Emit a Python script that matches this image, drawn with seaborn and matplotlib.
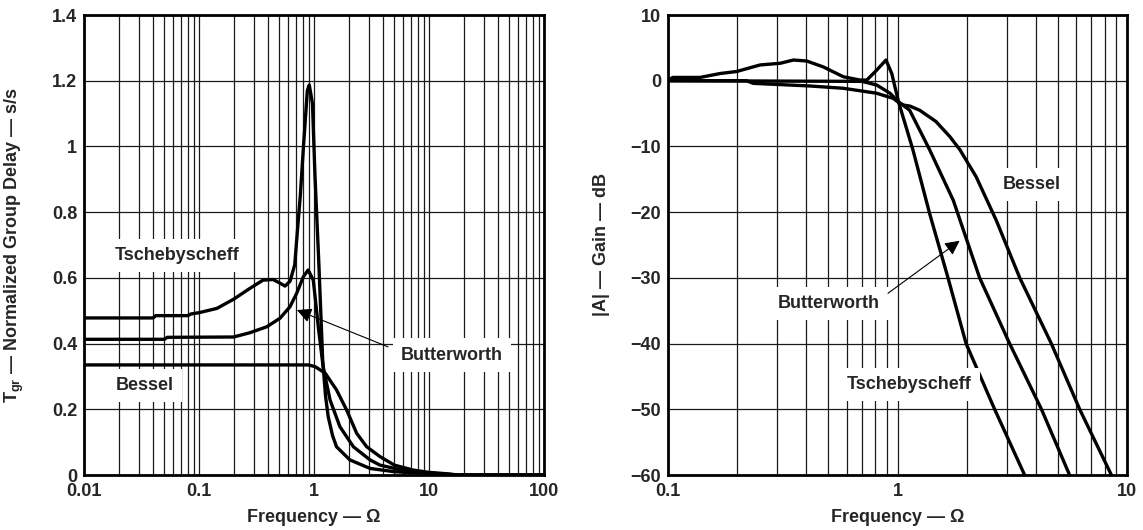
import numpy as np
import pandas as pd
import seaborn as sns
import matplotlib
matplotlib.use("Agg")
import matplotlib.pyplot as plt
from matplotlib.ticker import FixedLocator, LogLocator, NullFormatter

# ---- left panel: normalized group delay (s/s) vs frequency ----
tsch_delay_f = [0.01, 0.04, 0.042, 0.08, 0.085, 0.1, 0.143, 0.2, 0.277, 0.36, 0.44, 0.5, 0.56,
                0.62, 0.68, 0.72, 0.76, 0.81, 0.875, 0.91, 0.97, 1.02, 1.1, 1.19, 1.26, 1.33,
                1.45, 1.57, 2.05, 3.07, 5, 8, 12, 18, 100]
tsch_delay = [0.478, 0.478, 0.485, 0.485, 0.49, 0.494, 0.507, 0.535, 0.568, 0.593, 0.595, 0.585,
              0.575, 0.59, 0.64, 0.75, 0.85, 1.0, 1.17, 1.187, 1.13, 0.91, 0.65, 0.35, 0.24,
              0.177, 0.12, 0.086, 0.046, 0.02, 0.01, 0.006, 0.003, 0.0, 0.0]

butt_delay_f = [0.01, 0.05, 0.053, 0.2, 0.277, 0.388, 0.506, 0.618, 0.707, 0.807, 0.89, 0.986,
                1.09, 1.2, 1.38, 1.68, 2.2, 3.07, 3.75, 6, 10, 18, 100]
butt_delay = [0.413, 0.413, 0.419, 0.42, 0.433, 0.451, 0.477, 0.512, 0.553, 0.603, 0.624, 0.593,
              0.451, 0.33, 0.228, 0.147, 0.086, 0.046, 0.03, 0.014, 0.006, 0.0, 0.0]

bess_delay_f = [0.01, 0.89, 1.02, 1.25, 1.57, 1.92, 2.35, 2.87, 3.75, 5, 7.3, 10, 14, 18, 100]
bess_delay = [0.335, 0.335, 0.33, 0.31, 0.259, 0.198, 0.127, 0.086, 0.056, 0.03, 0.015, 0.008,
              0.004, 0.0, 0.0]

# ---- right panel: gain (dB) vs frequency ----
tsch_gain_f = [0.1, 0.105, 0.138, 0.169, 0.199, 0.252, 0.308, 0.352, 0.402, 0.475, 0.581, 0.687,
               0.735, 0.811, 0.891, 0.944, 1.01, 1.167, 1.38, 1.66, 1.99, 2.65, 3.58]
tsch_gain = [0.1, 0.5, 0.5, 1.1, 1.4, 2.4, 2.65, 3.15, 3.0, 2.1, 0.6, 0.1, 0.1, 1.6, 3.15, 1.1,
             -3.2, -10.5, -20.2, -30, -40, -50, -60]

butt_gain_f = [0.1, 0.7, 0.811, 0.927, 1.01, 1.13, 1.38, 1.75, 2.28, 3.08, 4.24, 5.62]
butt_gain = [0.0, -0.1, -0.65, -1.9, -3.2, -4.5, -10.5, -18.2, -30, -40, -50, -60]

bess_gain_f = [0.1, 0.22, 0.235, 0.415, 0.58, 0.81, 0.96, 1.01, 1.06, 1.13, 1.25, 1.47, 1.69,
               1.87, 2.2, 2.69, 3.41, 4.68, 6.22, 8.55]
bess_gain = [0.0, 0.0, -0.4, -0.8, -1.15, -1.9, -2.7, -3.3, -3.7, -3.85, -4.5, -6.2, -8.5,
             -10.5, -14.6, -21.2, -30, -40, -50, -60]

delay_xticks = [0.01, 0.1, 1, 10, 100]
delay_xlabels = ["0.01", "0.1", "1", "10", "100"]
delay_yticks = [0, 0.2, 0.4, 0.6, 0.8, 1.0, 1.2, 1.4]
delay_ylabels = ["0", "0.2", "0.4", "0.6", "0.8", "1", "1.2", "1.4"]
gain_xticks = [0.1, 1, 10]
gain_xlabels = ["0.1", "1", "10"]
gain_yticks = [10, 0, -10, -20, -30, -40, -50, -60]
gain_ylabels = ["10", "0", "\u221210", "\u221220", "\u221230", "\u221240", "\u221250", "\u221260"]

delay_df = pd.concat([
    pd.DataFrame({"freq": tsch_delay_f, "val": tsch_delay, "filter": "Tschebyscheff"}),
    pd.DataFrame({"freq": butt_delay_f, "val": butt_delay, "filter": "Butterworth"}),
    pd.DataFrame({"freq": bess_delay_f, "val": bess_delay, "filter": "Bessel"}),
])
gain_df = pd.concat([
    pd.DataFrame({"freq": tsch_gain_f, "val": tsch_gain, "filter": "Tschebyscheff"}),
    pd.DataFrame({"freq": butt_gain_f, "val": butt_gain, "filter": "Butterworth"}),
    pd.DataFrame({"freq": bess_gain_f, "val": bess_gain, "filter": "Bessel"}),
])

sns.set_style("white")
plt.rcParams["font.family"] = ["Liberation Sans", "DejaVu Sans"]
plt.rcParams["font.weight"] = "bold"
plt.rcParams["mathtext.fontset"] = "custom"
plt.rcParams["mathtext.rm"] = "Liberation Sans:bold"
plt.rcParams["mathtext.bf"] = "Liberation Sans:bold"
plt.rcParams["lines.solid_joinstyle"] = "round"

fig = plt.figure(figsize=(11.43, 5.30), dpi=100)
ax1 = fig.add_axes([84 / 1143, 55 / 530, 460 / 1143, 460 / 530])
ax2 = fig.add_axes([668 / 1143, 55 / 530, 459 / 1143, 460 / 530])

palette = {"Tschebyscheff": "black", "Butterworth": "black", "Bessel": "black"}


def style_axes(ax, xlim, ylim, xticks, xlabels, yticks, ylabels):
    ax.set_xscale("log")
    ax.set_xlim(*xlim)
    ax.set_ylim(*ylim)
    ax.xaxis.set_major_locator(FixedLocator(xticks))
    ax.set_xticklabels(xlabels)
    ax.xaxis.set_minor_locator(LogLocator(base=10, subs=np.arange(2, 10)))
    ax.xaxis.set_minor_formatter(NullFormatter())
    ax.set_yticks(yticks)
    ax.set_yticklabels(ylabels)
    ax.tick_params(axis="x", which="both", length=0, pad=6, labelsize=13)
    ax.tick_params(axis="y", which="both", length=0, pad=5, labelsize=13)
    for lab in ax.get_xticklabels() + ax.get_yticklabels():
        lab.set_fontweight("bold")
    ax.grid(which="both", axis="x", color="#1a1a1a", lw=0.9, zorder=0)
    ax.grid(which="major", axis="y", color="#1a1a1a", lw=0.9, zorder=0)
    ax.set_axisbelow(True)
    for sp in ax.spines.values():
        sp.set_visible(True)
        sp.set_color("black")
        sp.set_linewidth(2.0)
    ax.set_xlabel("Frequency \u2014 \u03a9", fontsize=13, fontweight="bold")
    ax.xaxis.set_label_coords(0.5, -0.075)


sns.lineplot(data=delay_df, x="freq", y="val", hue="filter", palette=palette, legend=False,
             ax=ax1, linewidth=2.4, estimator=None, sort=False)
sns.lineplot(data=gain_df, x="freq", y="val", hue="filter", palette=palette, legend=False,
             ax=ax2, linewidth=2.4, estimator=None, sort=False)

style_axes(ax1, (0.01, 100), (0, 1.4), delay_xticks, delay_xlabels, delay_yticks, delay_ylabels)
style_axes(ax2, (0.1, 10), (-60, 10), gain_xticks, gain_xlabels, gain_yticks, gain_ylabels)

ax1.set_ylabel("T$_{\\mathbf{gr}}$ \u2014 Normalized Group Delay \u2014 s/s",
               fontsize=13, fontweight="bold")
ax1.yaxis.set_label_coords(-0.126, 0.5)
ax2.set_ylabel("|A| \u2014 Gain \u2014 dB", fontsize=13, fontweight="bold")
ax2.yaxis.set_label_coords(-0.126, 0.5)

box = dict(facecolor="white", edgecolor="none", pad=6)
txt = dict(fontsize=13, fontweight="bold", ha="center", va="center", bbox=box, zorder=3)
arrow = dict(arrowstyle="-|>", color="black", lw=0.8, mutation_scale=22, shrinkA=0, shrinkB=0)

# left panel labels
ax1.text(0.064, 0.668, "Tschebyscheff", **txt)
ax1.text(0.034, 0.272, "Bessel", **txt)
ax1.annotate("", xy=(0.71, 0.502), xytext=(4.4, 0.39), arrowprops=arrow, zorder=4)
ax1.text(15.8, 0.365, "Butterworth", **txt)

# right panel labels
ax2.text(3.86, -15.8, "Bessel", **txt)
ax2.annotate("", xy=(1.866, -24.35), xytext=(0.909, -32.35), arrowprops=arrow, zorder=4)
ax2.text(0.504, -33.9, "Butterworth", **txt)
ax2.text(1.128, -46.2, "Tschebyscheff", **txt)

fig.savefig("out.png", dpi=100)
